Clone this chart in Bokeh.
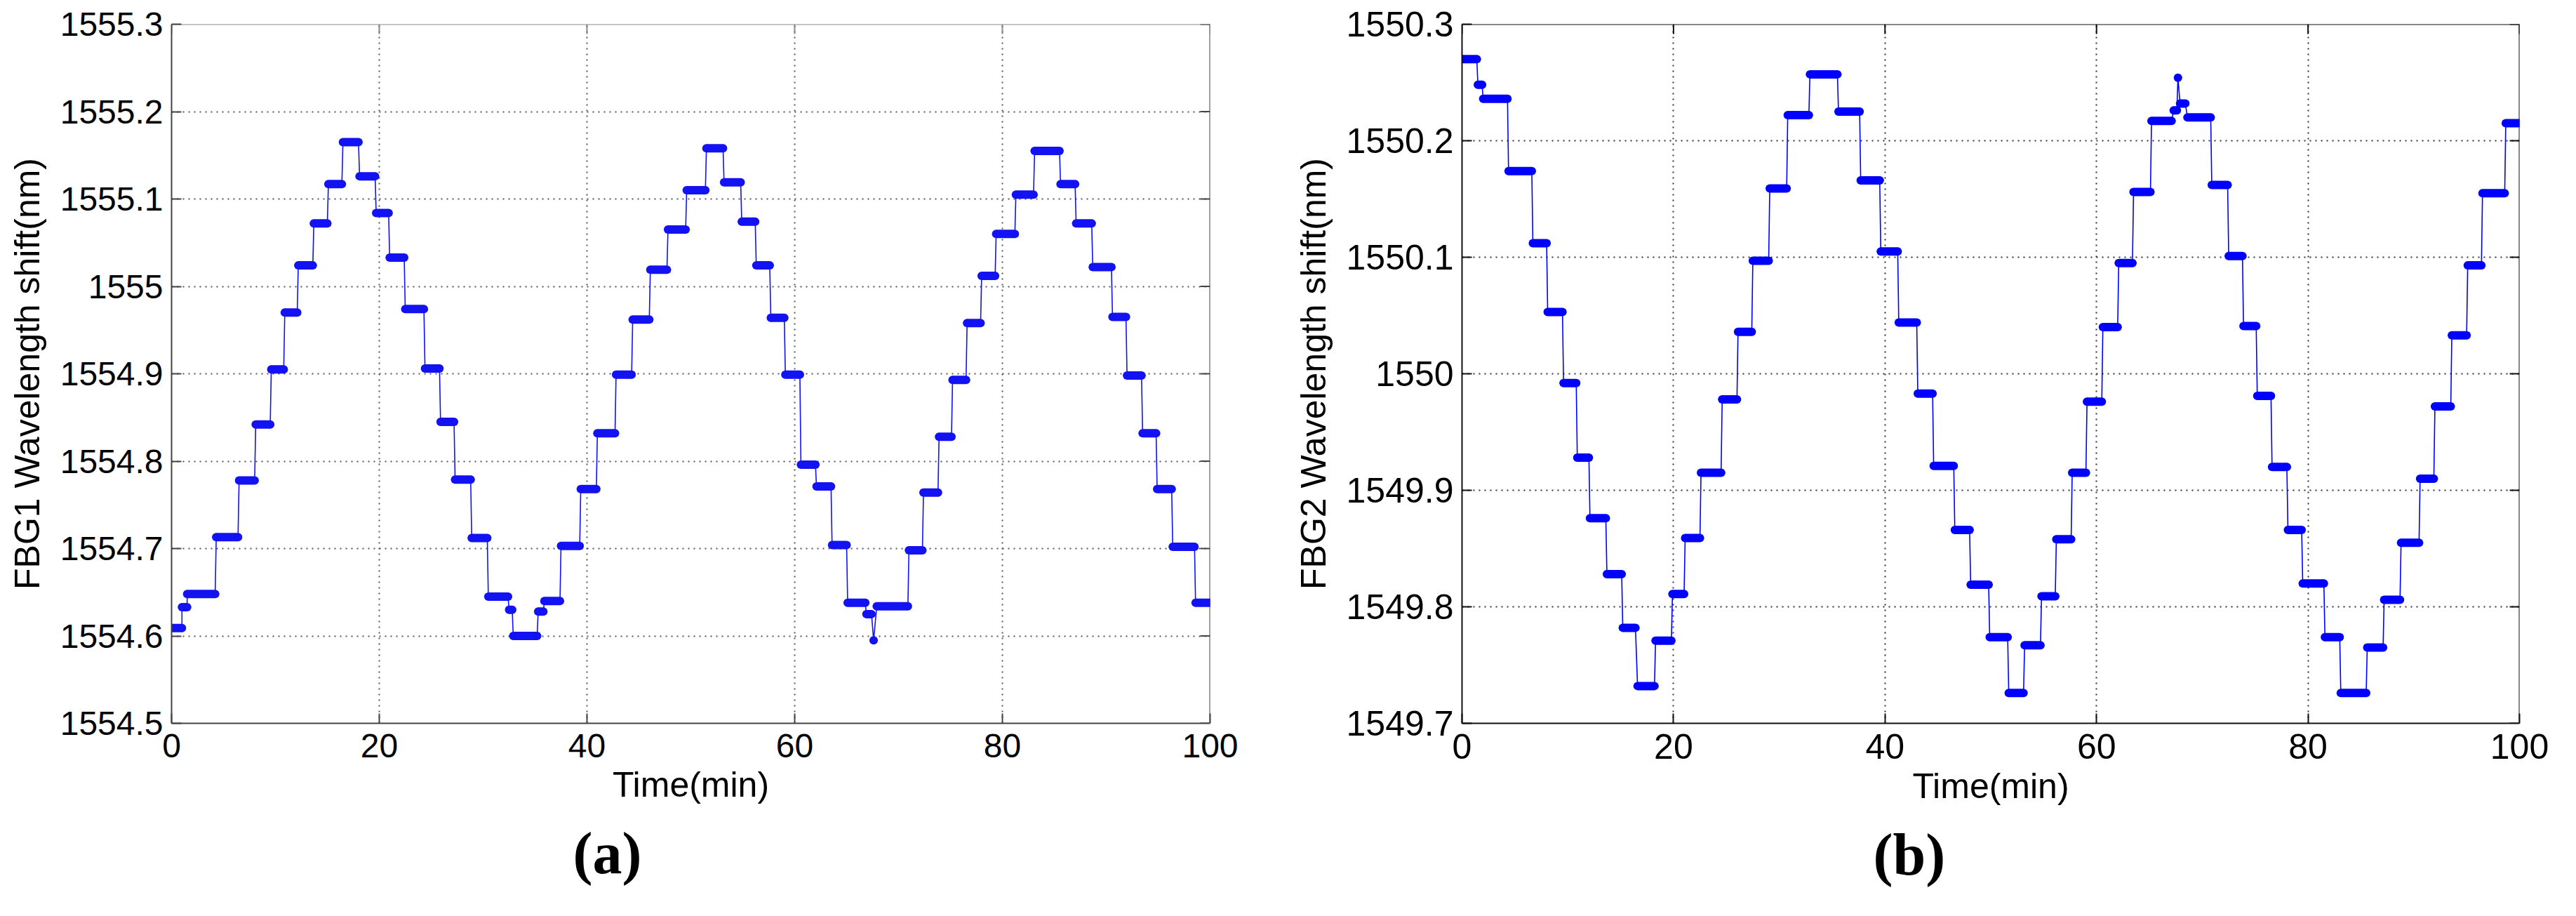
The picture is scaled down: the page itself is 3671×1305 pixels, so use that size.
from bokeh.plotting import figure
from bokeh.layouts import row
from bokeh.models import FixedTicker, CustomJSTickFormatter, Title, Range1d
from bokeh.embed import file_html
from bokeh.resources import INLINE

# ---------------- data ----------------
time_ticks = [0, 20, 40, 60, 80, 100]
time_tick_labels = ["0", "20", "40", "60", "80", "100"]

fbg1_ticks = [1554.5, 1554.6, 1554.7, 1554.8, 1554.9, 1555.0, 1555.1, 1555.2, 1555.3]
fbg1_tick_labels = ["1554.5", "1554.6", "1554.7", "1554.8", "1554.9", "1555", "1555.1", "1555.2", "1555.3"]

fbg2_ticks = [1549.7, 1549.8, 1549.9, 1550.0, 1550.1, 1550.2, 1550.3]
fbg2_tick_labels = ["1549.7", "1549.8", "1549.9", "1550", "1550.1", "1550.2", "1550.3"]

# FBG1 plateaus: start time (min), end time (min), wavelength (nm)
fbg1_start = [0.0, 1.0, 1.5, 4.3, 6.5, 8.1, 9.6, 10.9, 12.2, 13.7, 15.1, 16.5, 18.1, 19.7, 21.0, 22.5,
              24.4, 25.9, 27.3, 28.9, 30.5, 32.5, 32.9, 35.3, 35.9, 37.5, 39.4, 41.0, 42.8, 44.4, 46.1,
              47.8, 49.6, 51.5, 53.2, 54.9, 56.3, 57.7, 59.1, 60.6, 62.1, 63.6, 65.1, 66.9, 67.6, 67.9,
              71.0, 72.4, 73.9, 75.2, 76.6, 78.0, 79.4, 81.3, 83.1, 85.6, 87.1, 88.7, 90.6, 92.0, 93.5,
              94.9, 96.4, 98.6]
fbg1_end = [1.0, 1.5, 4.2, 6.4, 8.0, 9.5, 10.8, 12.1, 13.6, 15.0, 16.4, 18.0, 19.6, 20.9, 22.4, 24.3,
            25.8, 27.2, 28.8, 30.4, 32.4, 32.8, 35.2, 35.8, 37.4, 39.3, 40.9, 42.7, 44.3, 46.0, 47.7,
            49.5, 51.4, 53.1, 54.8, 56.2, 57.6, 59.0, 60.5, 62.0, 63.5, 65.0, 66.8, 67.4, 67.6, 70.9,
            72.3, 73.8, 75.1, 76.5, 77.9, 79.3, 81.2, 83.0, 85.5, 87.0, 88.6, 90.5, 91.9, 93.4, 94.8,
            96.3, 98.5, 100.0]
fbg1_level = [1554.609, 1554.633, 1554.648, 1554.713, 1554.778, 1554.842, 1554.905, 1554.970, 1555.024,
              1555.072, 1555.117, 1555.165, 1555.126, 1555.084, 1555.033, 1554.974, 1554.906, 1554.845,
              1554.779, 1554.712, 1554.645, 1554.630, 1554.600, 1554.628, 1554.640, 1554.703, 1554.768,
              1554.832, 1554.899, 1554.962, 1555.019, 1555.065, 1555.110, 1555.158, 1555.119, 1555.074,
              1555.024, 1554.964, 1554.899, 1554.796, 1554.771, 1554.704, 1554.638, 1554.625, 1554.595,
              1554.634, 1554.698, 1554.764, 1554.828, 1554.893, 1554.958, 1555.012, 1555.060, 1555.105,
              1555.155, 1555.117, 1555.072, 1555.022, 1554.965, 1554.898, 1554.832, 1554.768, 1554.702,
              1554.638]

# FBG2 plateaus: start time (min), end time (min), wavelength (nm)
fbg2_start = [0.0, 1.5, 2.0, 4.4, 6.7, 8.1, 9.6, 10.9, 12.1, 13.7, 15.2, 16.6, 18.3, 19.9, 21.1, 22.6,
              24.6, 26.1, 27.5, 29.1, 30.8, 32.9, 35.6, 37.7, 39.6, 41.3, 43.1, 44.6, 46.6, 48.1, 49.9,
              51.7, 53.2, 54.8, 56.2, 57.7, 59.1, 60.6, 62.1, 63.5, 65.2, 67.3, 67.7, 67.9, 68.6, 70.9,
              72.5, 73.9, 75.2, 76.6, 78.1, 79.5, 81.6, 83.1, 85.6, 87.2, 88.8, 90.6, 92.0, 93.6, 95.1,
              96.5, 98.7]
fbg2_end = [1.4, 1.9, 4.3, 6.6, 8.0, 9.5, 10.8, 12.0, 13.6, 15.1, 16.4, 18.2, 19.8, 21.0, 22.5, 24.5,
            26.0, 27.4, 29.0, 30.7, 32.8, 35.5, 37.6, 39.5, 41.2, 43.0, 44.5, 46.5, 48.0, 49.8, 51.6,
            53.1, 54.7, 56.1, 57.6, 59.0, 60.5, 62.0, 63.4, 65.1, 67.1, 67.6, 67.7, 68.4, 70.8, 72.4,
            73.8, 75.1, 76.5, 78.0, 79.4, 81.5, 83.0, 85.5, 87.1, 88.7, 90.5, 91.9, 93.5, 95.0, 96.4,
            98.6, 100.0]
fbg2_level = [1550.270, 1550.248, 1550.236, 1550.174, 1550.112, 1550.053, 1549.992, 1549.928, 1549.876,
              1549.828, 1549.782, 1549.732, 1549.771, 1549.811, 1549.859, 1549.915, 1549.978, 1550.036,
              1550.097, 1550.159, 1550.222, 1550.257, 1550.225, 1550.166, 1550.105, 1550.044, 1549.983,
              1549.921, 1549.866, 1549.819, 1549.774, 1549.726, 1549.767, 1549.809, 1549.858, 1549.915,
              1549.976, 1550.040, 1550.095, 1550.156, 1550.217, 1550.226, 1550.254, 1550.232, 1550.220,
              1550.162, 1550.101, 1550.041, 1549.981, 1549.920, 1549.866, 1549.820, 1549.774, 1549.726,
              1549.765, 1549.806, 1549.855, 1549.910, 1549.972, 1550.033, 1550.093, 1550.155, 1550.215]


def make_panel(start, end, level, yticks, ylabels, y_range, ylabel, tag, tag_offset,
               width, height, bl, br, bt, bb, axis_color, top_color, grid_color, blue,
               tick_fs, label_fs, ylabel_standoff, frame_h):
    p = figure(width=width, height=height, output_backend="svg", toolbar_location=None,
               x_range=Range1d(0, 100), y_range=Range1d(*y_range),
               min_border_left=bl, min_border_right=br, min_border_top=bt, min_border_bottom=bb,
               background_fill_color="white", border_fill_color="white")
    p.outline_line_color = None

    code = """
        let best = 0; for (let i = 0; i < t.length; i++) { if (Math.abs(t[i]-tick) < Math.abs(t[best]-tick)) best = i }
        return l[best];"""
    fmt_x = CustomJSTickFormatter(args=dict(t=time_ticks, l=time_tick_labels), code=code)
    fmt_y = CustomJSTickFormatter(args=dict(t=yticks, l=ylabels), code=code)

    font = "Liberation Sans"
    for ax in (p.xaxis[0], p.yaxis[0]):
        ax.major_tick_in = 14
        ax.major_tick_out = 0
        ax.minor_tick_line_color = None
        ax.axis_line_color = axis_color
        ax.axis_line_width = 2
        ax.major_tick_line_color = axis_color
        ax.major_tick_line_width = 2
        ax.major_label_text_font = font
        ax.major_label_text_font_size = tick_fs
        ax.major_label_text_color = "black"
        ax.axis_label_text_font = font
        ax.axis_label_text_font_size = label_fs
        ax.axis_label_text_font_style = "normal"
        ax.axis_label_text_color = "black"
    p.xaxis[0].ticker = FixedTicker(ticks=time_ticks)
    p.xaxis[0].formatter = fmt_x
    p.xaxis[0].axis_label = "Time(min)"
    p.xaxis[0].major_label_standoff = 15
    p.xaxis[0].axis_label_standoff = 8
    p.yaxis[0].ticker = FixedTicker(ticks=yticks)
    p.yaxis[0].formatter = fmt_y
    p.yaxis[0].axis_label = ylabel
    p.yaxis[0].major_label_standoff = 12
    p.yaxis[0].axis_label_standoff = ylabel_standoff

    for g in (p.xgrid[0], p.ygrid[0]):
        g.grid_line_color = grid_color
        g.grid_line_dash = "2 6"
        g.grid_line_width = 2
    p.xgrid[0].ticker = FixedTicker(ticks=time_ticks)
    p.ygrid[0].ticker = FixedTicker(ticks=yticks)

    # box: top and right frame lines with inward ticks (MATLAB style)
    x0, x1 = 0, 100
    y0, y1 = y_range
    tick_dy = 14 * (y1 - y0) / frame_h
    tick_dx = 14 * (x1 - x0) / (width - bl - br)
    p.segment(x0=[x0], y0=[y1], x1=[x1], y1=[y1], line_color=top_color, line_width=2)
    p.segment(x0=[x1], y0=[y0], x1=[x1], y1=[y1], line_color=axis_color, line_width=2)
    p.segment(x0=time_ticks, y0=[y1] * len(time_ticks), x1=time_ticks,
              y1=[y1 - tick_dy] * len(time_ticks), line_color=top_color, line_width=2)
    p.segment(x0=[x1] * len(yticks), y0=yticks, x1=[x1 - tick_dx] * len(yticks), y1=yticks,
              line_color=axis_color, line_width=2)

    xs, ys = [], []
    for s, e, v in zip(start, end, level):
        xs += [s, e]
        ys += [v, v]
    p.line(xs, ys, line_color=blue, line_width=1.6)
    p.segment(x0=start, y0=level, x1=end, y1=level, line_color=blue, line_width=12, line_cap="round")
    p.scatter(xs, ys, marker="asterisk", size=11, line_color=blue, line_width=2)

    t = Title(text=tag, align="left", offset=tag_offset, standoff=36,
              text_font="Liberation Serif", text_font_style="bold", text_font_size="84px",
              text_color="black")
    p.add_layout(t, "below")
    return p


p1 = make_panel(fbg1_start, fbg1_end, fbg1_level, fbg1_ticks, fbg1_tick_labels, (1554.5, 1555.3),
                "FBG1 Wavelength shift(nm)", "(a)", 572,
                1800, 1289, 244, 76, 31, 258, "#444444", "#8a8a8a", "#555555", "#1212f2",
                "48px", "50px", 16, 1000)
p2 = make_panel(fbg2_start, fbg2_end, fbg2_level, fbg2_ticks, fbg2_tick_labels, (1549.7, 1550.3),
                "FBG2 Wavelength shift(nm)", "(b)", 586,
                1855, 1289, 283, 65, 34, 259, "#111111", "#111111", "#333333", "#0000ff",
                "50px", "50px", 16, 996)

layout = row(p1, p2)
open("out.html", "w").write(file_html(layout, INLINE))
